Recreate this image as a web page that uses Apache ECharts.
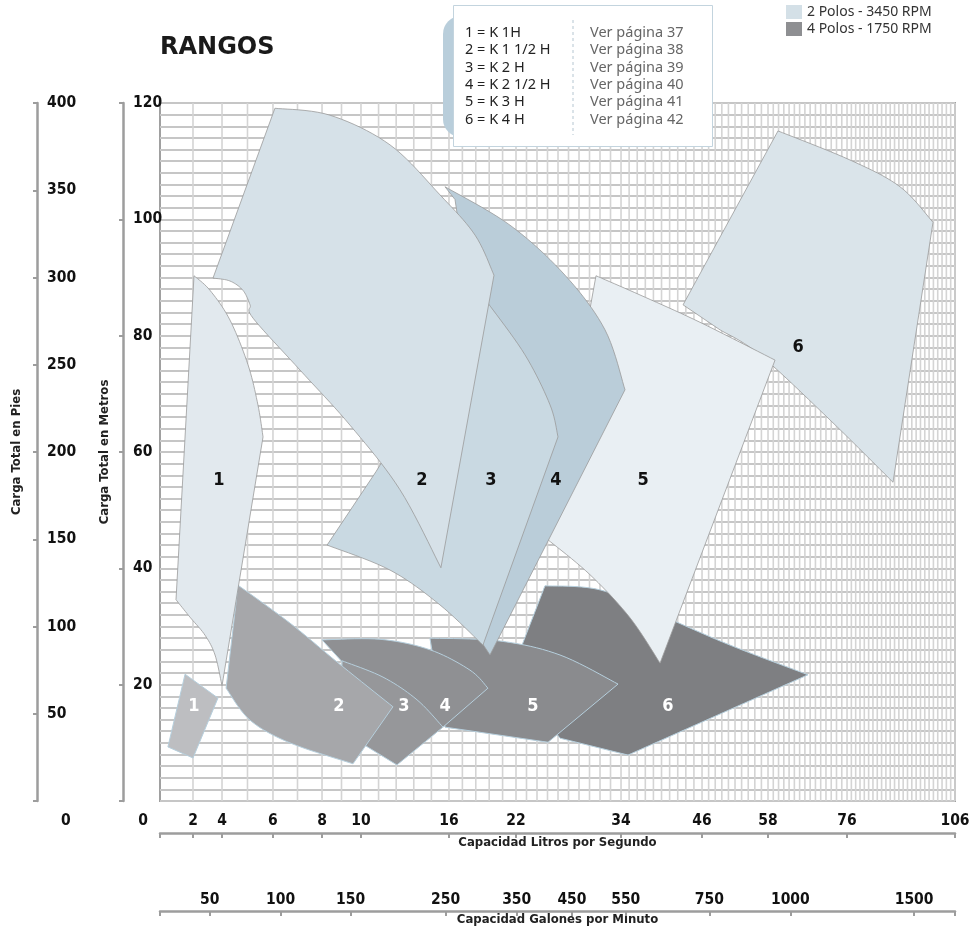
<!DOCTYPE html>
<html><head><meta charset="utf-8">
<script src="https://cdn.jsdelivr.net/npm/echarts@6/dist/echarts.min.js"></script>
<style>html,body{margin:0;padding:0;background:#fff}#c{width:973px;height:926px}</style>
</head><body><div id="c"></div>
<script>
// ---------- tick labels ----------
const litrosTicks = [0, 2, 4, 6, 8, 10, 16, 22, 34, 46, 58, 76, 106];
const galonesTicks = [50, 100, 150, 250, 350, 450, 550, 750, 1000, 1500];
const GPM_A_LPS = 0.0630902;

// ---------- range outlines: [caudal L/s, carga m, 1 = corner] ----------
// 2 Polos - 3450 RPM
const dosPolos1 = [[2.07,90.3,1],[3.17,87.8],[4.31,82.7],[5.02,75.0],[5.41,68.1],[5.61,62.6,1],[4.0,19.8,1],[3.52,25.1],[2.83,28.5],[1.82,31.6],[0.97,34.6,1]];
const dosPolos2 = [[6.08,119.1,1],[8.41,117.9],[11.98,112.8],[15.39,104.2],[18.33,97.3],[20.03,90.4,1],[15.45,40.1,1],[12.66,53.5],[9.44,64.6],[7.10,74.1],[5.22,83.0],[5.10,85.3],[4.82,87.8],[4.31,89.4],[3.38,89.9,1]];
const dosPolos3 = [[19.49,85.6,1],[23.03,76.7],[25.89,68.1],[26.8,62.6,1],[19.04,26.8,1],[15.39,33.7],[11.98,39.7],[8.26,44.0,1],[11.02,56.6,1],[14.02,68.9,1],[17.88,82.7,1]];
const dosPolos4 = [[15.73,105.6,1],[21.46,99.0],[27.6,90.4],[32.17,81.0],[34.59,70.7,1],[19.67,25.1,1],[18.78,27.7,1],[17.88,86.1,1],[16.54,103.4,1]];
const dosPolos5 = [[31.14,90.3,1],[36.81,87.0],[45.7,82.3],[59.6,75.8,1],[39.78,23.7,1],[35.33,31.5],[30.46,38.9],[25.66,44.9,1]];
const dosPolos6 = [[43.19,85.3,1],[60.28,115.2,1],[76.83,110.2],[90.72,105.6],[99.89,99.5,1],[88.78,54.8,1],[72.13,65.5],[56.55,76.7],[49.27,81.0,1]];
// 4 Polos - 1750 RPM
const cuatroPolos1 = [[1.52,21.8,1],[3.72,17.7,1],[2.0,7.4,1],[0.48,9.3,1]];
const cuatroPolos2 = [[4.63,37.1,1],[6.69,30.6],[8.77,23.9],[12.18,16.2,1],[9.59,6.4,1],[6.69,10.0],[5.10,13.9],[4.16,19.4,1]];
const cuatroPolos3 = [[9.03,24.1,1],[11.5,21.3],[13.82,17.4],[15.59,12.7,1],[12.45,6.2,1],[8.92,12.2,1]];
const cuatroPolos4 = [[8.0,27.7,1],[11.3,27.8],[14.7,26.0],[17.88,22.5],[19.49,19.4,1],[15.59,12.7,1],[12.66,17.4,1],[9.18,23.4,1]];
const cuatroPolos5 = [[14.7,28.0,1],[20.57,27.5],[27.03,25.1],[33.66,20.1,1],[25.66,10.1,1],[15.73,12.7,1]];
const cuatroPolos6 = [[22.69,26.8,1],[25.31,37.0,1],[31.6,36.3],[39.78,32.0],[51.09,26.8],[67.11,21.7,1],[35.04,7.9,1],[27.03,10.8,1],[23.6,17.4,1]];

// range number labels [L/s, m]
const etiquetas2P = [[3.79,55.2],[14.16,55.2],[19.76,55.2],[26.57,55.2],[37.26,55.2],[64.84,78.0]];
const etiquetas4P = [[2.07,16.3],[8.87,16.3],[12.93,16.3],[15.73,16.3],[23.94,16.3],[40.96,16.3]];
const nombres = ['1','2','3','4','5','6'];

const leyendaModelos = ['1 = K 1H','2 = K 1 1/2 H','3 = K 2 H','4 = K 2 1/2 H','5 = K 3 H','6 = K 4 H'];
const leyendaPaginas = ['Ver página 37','Ver página 38','Ver página 39','Ver página 40','Ver página 41','Ver página 42'];

// ---------- hand-drawn capacity scale (percent of axis length at each litros tick) ----------
const escalaPct = [0, 4.15, 7.8, 14.21, 20.38, 25.28, 36.35, 44.78, 57.99, 68.18, 76.48, 86.42, 100];
function toU(q) {
  for (let i = 1; i < litrosTicks.length; i++) {
    if (q <= litrosTicks[i]) {
      const a = litrosTicks[i-1], b = litrosTicks[i];
      return escalaPct[i-1] + (q - a) / (b - a) * (escalaPct[i] - escalaPct[i-1]);
    }
  }
  return 100;
}
// vertical grid: every 1 L/s up to 10, then every 1.2 L/s
const gridQ = [2,4,5,6,7,8,9,10];
for (let k = 1; k <= 80; k++) gridQ.push(+(10 + 1.2 * k).toFixed(2));

const dos = [dosPolos1, dosPolos2, dosPolos3, dosPolos4, dosPolos5, dosPolos6];
const cuatro = [cuatroPolos1, cuatroPolos2, cuatroPolos3, cuatroPolos4, cuatroPolos5, cuatroPolos6];
const colores2P = ['#e2e9ee','#d6e1e8','#c9d9e2','#bacdd9','#e9eff3','#dae4ea'];
const colores4P = ['#bdbec1','#a6a7aa','#96979a','#8f9093','#8a8b8e','#7e7f82'];
const orden2P = [5, 4, 3, 2, 1, 0];
const orden4P = [5, 4, 3, 2, 1, 0];

const condB = 'DejaVu Sans Condensed';
const axisCol = '#9d9d9d';

// closed outline through pixel points; corners stay sharp, the rest follows a Catmull-Rom curve
function outline(pts) {
  const n = pts.length;
  const s = Math.max(0, pts.findIndex(p => p[2]));
  const arr = [];
  for (let k = 0; k <= n; k++) arr.push(pts[(s + k) % n]);
  const out = [];
  let run = [arr[0]];
  function emit(r) {
    if (r.length === 2) { out.push([r[0][0], r[0][1]]); return; }
    const m = r.length;
    for (let i = 0; i < m - 1; i++) {
      const P0 = r[Math.max(i - 1, 0)], P1 = r[i], P2 = r[i + 1], P3 = r[Math.min(i + 2, m - 1)];
      const c1 = [P1[0] + (P2[0] - P0[0]) / 6, P1[1] + (P2[1] - P0[1]) / 6];
      const c2 = [P2[0] - (P3[0] - P1[0]) / 6, P2[1] - (P3[1] - P1[1]) / 6];
      for (let t = 0; t < 1; t += 0.1) {
        const u = 1 - t;
        out.push([u*u*u*P1[0] + 3*u*u*t*c1[0] + 3*u*t*t*c2[0] + t*t*t*P2[0],
                  u*u*u*P1[1] + 3*u*u*t*c1[1] + 3*u*t*t*c2[1] + t*t*t*P2[1]]);
      }
    }
  }
  for (let k = 1; k < arr.length; k++) {
    run.push(arr[k]);
    if (arr[k][2] || k === arr.length - 1) { emit(run); run = [arr[k]]; }
  }
  return out;
}

const chart = echarts.init(document.getElementById('c'), null, {renderer: 'canvas'});

function polyRender(shapes, fills, stroke, lw) {
  return function (params, api) {
    const idx = api.value(0);
    const pix = shapes[idx].map(p => {
      const c = api.coord([toU(p[0]), p[1]]);
      return [c[0], c[1], p[2] === 1];
    });
    return {type: 'polygon', shape: {points: outline(pix)},
      style: {fill: fills[idx], stroke: stroke, lineWidth: lw, lineJoin: 'round'}};
  };
}
function labelRender(color) {
  return function (params, api) {
    const c = api.coord([toU(api.value(0)), api.value(1)]);
    return {type: 'text', x: c[0], y: c[1],
      style: {text: nombres[params.dataIndex], fill: color, align: 'center', verticalAlign: 'middle',
        font: 'bold 18px "' + condB + '"'}};
  };
}

const litrosU = litrosTicks.map(toU);
const galonesU = galonesTicks.map(g => toU(g * GPM_A_LPS));
const lblFont = {fontFamily: condB, fontWeight: 'bold', fontSize: 15.5, color: '#111'};
const nameFont = {fontFamily: condB, fontWeight: 'bold', fontSize: 13, color: '#222'};
const nameFontX = Object.assign({verticalAlign: 'middle'}, nameFont);

const option = {
  animation: false,
  backgroundColor: '#fff',
  title: {text: 'RANGOS', left: 155, top: 31,
    textStyle: {fontSize: 24, fontWeight: 'bold', fontFamily: 'DejaVu Sans', color: '#1a1a1a'}},
  legend: {
    left: 786, top: 5, padding: 0, orient: 'vertical', itemWidth: 16, itemHeight: 14, itemGap: 3,
    icon: 'rect', selectedMode: false,
    textStyle: {fontSize: 14, fontFamily: 'Noto Sans', color: '#333'},
    data: [{name: '2 Polos - 3450 RPM', itemStyle: {color: '#d4e0e7'}},
           {name: '4 Polos - 1750 RPM', itemStyle: {color: '#8e8f92'}}]
  },
  grid: {left: 160, top: 103, right: 18, bottom: 125, show: true, containLabel: false,
    outerBoundsMode: 'none',
    borderColor: '#a0a0a0', borderWidth: 2, backgroundColor: '#fff'},
  xAxis: [
    {type: 'value', min: 0, max: 100, position: 'bottom', offset: 32,
      axisLine: {show: true, onZero: false, lineStyle: {color: axisCol, width: 2.5}},
      axisTick: {show: true, customValues: litrosU, length: 5, lineStyle: {color: axisCol, width: 2}},
      axisLabel: Object.assign({show: true, inside: true, margin: 4, customValues: litrosU,
        formatter: function (v) {
          let best = 0;
          for (let i = 0; i < litrosU.length; i++) if (Math.abs(litrosU[i] - v) < Math.abs(litrosU[best] - v)) best = i;
          return litrosTicks[best] === 0 ? '{z|0}' : String(litrosTicks[best]);
        },
        rich: {z: Object.assign({padding: [0, 34, 0, 0]}, lblFont)}}, lblFont),
      splitLine: {show: false},
      name: 'Capacidad Litros por Segundo', nameLocation: 'middle', nameGap: 10, nameMoveOverlap: false,
      nameTextStyle: nameFontX},
    {type: 'value', min: 0, max: 100, position: 'bottom', offset: 110,
      axisLine: {show: true, onZero: false, lineStyle: {color: axisCol, width: 2.5}},
      axisTick: {show: true, customValues: [0].concat(galonesU, [100]), length: 5, lineStyle: {color: axisCol, width: 2}},
      axisLabel: Object.assign({show: true, inside: true, margin: 3, customValues: galonesU,
        formatter: function (v) {
          let best = 0;
          for (let i = 0; i < galonesU.length; i++) if (Math.abs(galonesU[i] - v) < Math.abs(galonesU[best] - v)) best = i;
          return String(galonesTicks[best]);
        }}, lblFont),
      splitLine: {show: false},
      name: 'Capacidad Galones por Minuto', nameLocation: 'middle', nameGap: 9, nameMoveOverlap: false,
      nameTextStyle: nameFontX}
  ],
  yAxis: [
    {type: 'value', min: 0, max: 120, interval: 20, position: 'left', offset: 37,
      axisLine: {show: true, onZero: false, lineStyle: {color: axisCol, width: 2.5}},
      axisTick: {show: true, length: 4, lineStyle: {color: axisCol, width: 2}},
      axisLabel: Object.assign({inside: true, margin: 10, formatter: v => v === 0 ? '' : String(v)}, lblFont),
      splitLine: {show: false},
      name: 'Carga Total en Metros', nameLocation: 'middle', nameGap: 12, nameRotate: 90,
      nameTextStyle: nameFont},
    {type: 'value', min: 0, max: 400, interval: 50, position: 'left', offset: 123,
      axisLine: {show: true, onZero: false, lineStyle: {color: axisCol, width: 2.5}},
      axisTick: {show: true, length: 4, lineStyle: {color: axisCol, width: 2}},
      axisLabel: Object.assign({inside: true, margin: 10,
        formatter: v => v === 0 ? '{z|0}' : String(v),
        rich: {z: Object.assign({padding: [40, 0, 0, 14]}, lblFont)}}, lblFont),
      splitLine: {show: false},
      name: 'Carga Total en Pies', nameLocation: 'middle', nameGap: 14, nameRotate: 90,
      nameTextStyle: nameFont},
    {type: 'value', min: 0, max: 120, interval: 2, position: 'left', show: true,
      axisLine: {show: false}, axisTick: {show: false}, axisLabel: {show: false},
      splitLine: {show: true, lineStyle: {color: '#c6c6c6', width: 2}}}
  ],
  graphic: [
    {type: 'rect', left: 443, top: 16, z: 100, shape: {width: 120, height: 121, r: 18},
      style: {fill: '#b9cedb'}},
    {type: 'rect', left: 453, top: 5, z: 101, shape: {width: 259, height: 141},
      style: {fill: '#fff', stroke: '#c3d4de', lineWidth: 1}},
    {type: 'line', z: 102, shape: {x1: 573, y1: 20, x2: 573, y2: 135},
      style: {stroke: '#b5c6d1', lineWidth: 1, lineDash: [3, 3]}},
    {type: 'text', left: 465, top: 24, z: 102,
      style: {text: leyendaModelos.join('\n'), font: '14.5px "Noto Sans"', fill: '#222', lineHeight: 17.4}},
    {type: 'text', left: 590, top: 24, z: 102,
      style: {text: leyendaPaginas.join('\n'), font: '14.5px "Noto Sans"', fill: '#666', lineHeight: 17.4}}
  ],
  series: [
    {type: 'custom', name: 'grid', silent: true, xAxisIndex: 0, yAxisIndex: 0,
      data: gridQ.map(q => [toU(q), 0]),
      renderItem: function (params, api) {
        const a = api.coord([api.value(0), 0]), b = api.coord([api.value(0), 120]);
        return {type: 'line', shape: {x1: a[0], y1: a[1], x2: b[0], y2: b[1]},
          style: {stroke: '#d4d4d4', lineWidth: 1.6}};
      }},
    {type: 'custom', name: '4 Polos - 1750 RPM', silent: true, xAxisIndex: 0, yAxisIndex: 0,
      itemStyle: {color: '#8e8f92'},
      data: orden4P.map(i => [i, 0]),
      renderItem: polyRender(cuatro, colores4P, '#b6cfdd', 1)},
    {type: 'custom', name: '2 Polos - 3450 RPM', silent: true, xAxisIndex: 0, yAxisIndex: 0,
      itemStyle: {color: '#d4e0e7'},
      data: orden2P.map(i => [i, 0]),
      renderItem: polyRender(dos, colores2P, '#9a9a9a', 0.8)},
    {type: 'custom', name: 'lab4', silent: true, xAxisIndex: 0, yAxisIndex: 0,
      data: etiquetas4P, renderItem: labelRender('#ffffff')},
    {type: 'custom', name: 'lab2', silent: true, xAxisIndex: 0, yAxisIndex: 0,
      data: etiquetas2P, renderItem: labelRender('#111111')}
  ]
};
chart.setOption(option);
</script></body></html>
